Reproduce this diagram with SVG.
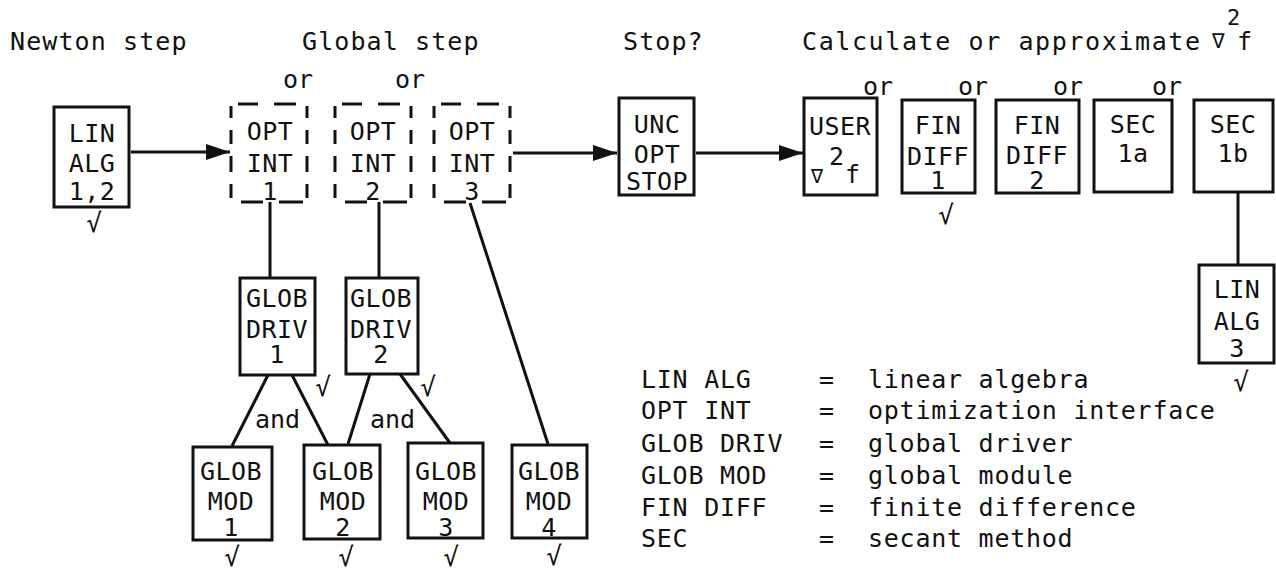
<svg xmlns="http://www.w3.org/2000/svg" xmlns:xlink="http://www.w3.org/1999/xlink" width="1276" height="571" viewBox="0 0 1276 571">
  <style>
    text { font-family: "DejaVu Sans Mono", "Liberation Mono", monospace; fill: #111; }
    .hd { font-size: 25px; letter-spacing: 1.1px; }
    .hd2 { font-size: 25px; letter-spacing: 1.6px; }
    .or { font-size: 25px; }
    .nd { font-size: 25px; text-anchor: middle; letter-spacing: 0.4px; }
    .lg { font-size: 25px; letter-spacing: 0.75px; }
    .ck { font-size: 26px; text-anchor: middle; }
    .box { fill: #fff; stroke: #111; stroke-width: 3; }
    .dash { fill: none; stroke: #111; stroke-width: 3; }
    .wire { fill: none; stroke: #111; stroke-width: 3; }
  </style>
  <defs>
    <!-- open-cornered dashed frame used by the OPT INT blocks -->
    <path id="dbox" class="dash" d="M0,2 V14 M0,26 V40 M0,52 V68 M0,80 V94 M76,2 V14 M76,26 V40 M76,52 V68 M76,80 V94 M7,0 H27 M43,0 H65 M10,98 H32 M48,98 H72"/>
    <marker id="head" viewBox="0 0 24 16" refX="24" refY="8" markerWidth="24" markerHeight="16" markerUnits="userSpaceOnUse" orient="auto">
      <path d="M0,0 L24,8 L0,16 z" fill="#111"/>
    </marker>
  </defs>

  <!-- column headings -->
  <g id="headings">
    <text class="hd" x="10" y="50">Newton step</text>
    <text class="hd" x="302" y="50">Global step</text>
    <text class="hd" x="623" y="50">Stop?</text>
    <text class="hd2" x="802" y="50">Calculate or approximate</text>
    <text x="1212" y="48" style="font-size:21px">∇</text>
    <text x="1227" y="25" style="font-size:22px">2</text>
    <text x="1237" y="50" style="font-size:25px">f</text>
  </g>

  <!-- alternatives -->
  <g id="or-labels">
    <text class="or" x="283" y="88">or</text>
    <text class="or" x="395" y="88">or</text>
    <text class="or" x="863" y="95">or</text>
    <text class="or" x="958" y="95">or</text>
    <text class="or" x="1053" y="95">or</text>
    <text class="or" x="1152" y="95">or</text>
    <text class="or" x="255" y="428">and</text>
    <text class="or" x="370" y="428">and</text>
  </g>

  <!-- connectors -->
  <g id="connectors">
    <line class="wire" x1="131" y1="152" x2="230" y2="152" marker-end="url(#head)"/>
    <line class="wire" x1="513" y1="153" x2="617" y2="153" marker-end="url(#head)"/>
    <line class="wire" x1="696" y1="153" x2="803" y2="153" marker-end="url(#head)"/>
    <line class="wire" x1="270" y1="202" x2="270" y2="278"/>
    <line class="wire" x1="379" y1="202" x2="379" y2="278"/>
    <line class="wire" x1="470" y1="203" x2="548" y2="444"/>
    <line class="wire" x1="1238" y1="192" x2="1238" y2="265"/>
    <line class="wire" x1="268" y1="375" x2="232" y2="446"/>
    <line class="wire" x1="292" y1="375" x2="328" y2="445"/>
    <line class="wire" x1="370" y1="374" x2="348" y2="444"/>
    <line class="wire" x1="400" y1="374" x2="450" y2="443"/>
  </g>

  <g id="lin-alg-12">
    <rect class="box" x="54" y="107" width="75" height="100"/>
    <text class="nd" x="92" y="142">LIN</text>
    <text class="nd" x="92" y="172">ALG</text>
    <text class="nd" x="92" y="200">1,2</text>
    <text class="ck" x="94" y="232">√</text>
  </g>

  <g id="opt-int-1">
    <use xlink:href="#dbox" x="231" y="104"/>
    <text class="nd" x="270" y="140">OPT</text>
    <text class="nd" x="270" y="172">INT</text>
    <text class="nd" x="270" y="200">1</text>
  </g>
  <g id="opt-int-2">
    <use xlink:href="#dbox" x="335" y="104"/>
    <text class="nd" x="373" y="140">OPT</text>
    <text class="nd" x="373" y="172">INT</text>
    <text class="nd" x="373" y="200">2</text>
  </g>
  <g id="opt-int-3">
    <use xlink:href="#dbox" x="434" y="104"/>
    <text class="nd" x="472" y="140">OPT</text>
    <text class="nd" x="472" y="172">INT</text>
    <text class="nd" x="472" y="200">3</text>
  </g>

  <g id="unc-opt-stop">
    <rect class="box" x="619" y="98" width="75" height="97"/>
    <text class="nd" x="657" y="133">UNC</text>
    <text class="nd" x="657" y="163">OPT</text>
    <text class="nd" x="657" y="190">STOP</text>
  </g>

  <g id="user-hess">
    <rect class="box" x="804" y="98" width="73" height="97"/>
    <text class="nd" x="840" y="135">USER</text>
    <text x="811" y="183" style="font-size:20px">∇</text>
    <text x="829" y="165" style="font-size:25px">2</text>
    <text x="845" y="183" style="font-size:25px">f</text>
  </g>

  <g id="fin-diff-1">
    <rect class="box" x="902" y="100" width="73" height="93"/>
    <text class="nd" x="938" y="134">FIN</text>
    <text class="nd" x="938" y="165">DIFF</text>
    <text class="nd" x="938" y="189">1</text>
    <text class="ck" x="946" y="224">√</text>
  </g>

  <g id="fin-diff-2">
    <rect class="box" x="996" y="100" width="83" height="93"/>
    <text class="nd" x="1037" y="134">FIN</text>
    <text class="nd" x="1037" y="164">DIFF</text>
    <text class="nd" x="1037" y="189">2</text>
  </g>

  <g id="sec-1a">
    <rect class="box" x="1094" y="100" width="78" height="92"/>
    <text class="nd" x="1133" y="133">SEC</text>
    <text class="nd" x="1133" y="162">1a</text>
  </g>

  <g id="sec-1b">
    <rect class="box" x="1194" y="100" width="79" height="92"/>
    <text class="nd" x="1233" y="133">SEC</text>
    <text class="nd" x="1233" y="162">1b</text>
  </g>

  <g id="lin-alg-3">
    <rect class="box" x="1199" y="265" width="75" height="98"/>
    <text class="nd" x="1237" y="298">LIN</text>
    <text class="nd" x="1237" y="330">ALG</text>
    <text class="nd" x="1237" y="357">3</text>
    <text class="ck" x="1241" y="391">√</text>
  </g>

  <g id="glob-driv-1">
    <rect class="box" x="240" y="278" width="75" height="97"/>
    <text class="nd" x="277" y="307">GLOB</text>
    <text class="nd" x="277" y="338">DRIV</text>
    <text class="nd" x="277" y="363">1</text>
    <text class="ck" x="323" y="396">√</text>
  </g>

  <g id="glob-driv-2">
    <rect class="box" x="346" y="278" width="72" height="96"/>
    <text class="nd" x="381" y="307">GLOB</text>
    <text class="nd" x="381" y="338">DRIV</text>
    <text class="nd" x="381" y="363">2</text>
    <text class="ck" x="428" y="396">√</text>
  </g>

  <g id="glob-mod-1">
    <rect class="box" x="193" y="447" width="79" height="93"/>
    <text class="nd" x="231" y="480">GLOB</text>
    <text class="nd" x="231" y="510">MOD</text>
    <text class="nd" x="231" y="536">1</text>
    <text class="ck" x="232" y="566">√</text>
  </g>
  <g id="glob-mod-2">
    <rect class="box" x="304" y="445" width="76" height="94"/>
    <text class="nd" x="343" y="480">GLOB</text>
    <text class="nd" x="343" y="510">MOD</text>
    <text class="nd" x="343" y="536">2</text>
    <text class="ck" x="346" y="566">√</text>
  </g>
  <g id="glob-mod-3">
    <rect class="box" x="408" y="443" width="75" height="95"/>
    <text class="nd" x="446" y="480">GLOB</text>
    <text class="nd" x="446" y="510">MOD</text>
    <text class="nd" x="446" y="536">3</text>
    <text class="ck" x="451" y="566">√</text>
  </g>
  <g id="glob-mod-4">
    <rect class="box" x="512" y="445" width="75" height="93"/>
    <text class="nd" x="549" y="480">GLOB</text>
    <text class="nd" x="549" y="510">MOD</text>
    <text class="nd" x="549" y="536">4</text>
    <text class="ck" x="554" y="565">√</text>
  </g>

  <!-- abbreviation key -->
  <g id="legend">
    <text class="lg" x="641" y="388">LIN ALG</text>
    <text class="lg" x="641" y="419">OPT INT</text>
    <text class="lg" x="641" y="452">GLOB DRIV</text>
    <text class="lg" x="641" y="484">GLOB MOD</text>
    <text class="lg" x="641" y="516">FIN DIFF</text>
    <text class="lg" x="641" y="547">SEC</text>
    <text class="lg" x="819" y="388">=</text>
    <text class="lg" x="819" y="419">=</text>
    <text class="lg" x="819" y="452">=</text>
    <text class="lg" x="819" y="484">=</text>
    <text class="lg" x="819" y="516">=</text>
    <text class="lg" x="819" y="547">=</text>
    <text class="lg" x="868" y="388">linear algebra</text>
    <text class="lg" x="868" y="419">optimization interface</text>
    <text class="lg" x="868" y="452">global driver</text>
    <text class="lg" x="868" y="484">global module</text>
    <text class="lg" x="868" y="516">finite difference</text>
    <text class="lg" x="868" y="547">secant method</text>
  </g>
</svg>
